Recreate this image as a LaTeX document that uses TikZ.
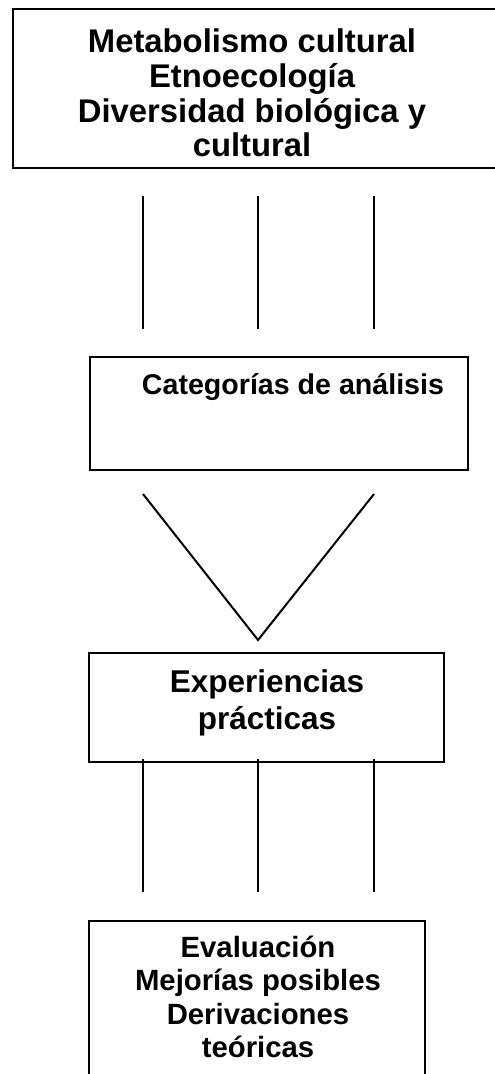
\documentclass[tikz,border=0pt]{standalone}
\usepackage{fontspec}
\setmainfont{Liberation Sans}
\usepackage{tikz}
\usetikzlibrary{positioning,calc}

\begin{document}
\begin{tikzpicture}[x=1pt, y=-1pt,
    boxline/.style={line width=2.5pt},
    link/.style={line width=2pt},
    txt/.style args={#1/#2}{align=center, inner sep=0pt, font=\bfseries\fontsize{#1}{#2}\selectfont}]
    \useasboundingbox (0,0) rectangle (495,1074);
    %
    \draw[boxline] (495,9) -- (13,9) -- (13,168) -- (495,168);
    \node[txt=32.8/34.7] (vTheory) at (252,93) {Metabolismo cultural\\Etnoecología\\Diversidad biológica y\\cultural};
    %
    \foreach \x in {143,258,374} {
    \node[coordinate] (vUp\x) at (\x,196) {};
    \node[coordinate] (vDn\x) at (\x,329) {};
    \draw[link] (vUp\x) -- (vDn\x);
    }
    %
    \draw[boxline] (90,357) rectangle (468,470);
    \node[txt=28.6/33] (vCat) at (293,387) {Categorías de análisis};
    %
    \node[coordinate] (vL) at (143,494) {};
    \node[coordinate] (vR) at (374,494) {};
    \node[coordinate] (vApex) at (258,640) {};
    \draw[link] (vL) -- (vApex) -- (vR);
    %
    \draw[boxline] (89,653) rectangle (444,762);
    \node[txt=31.5/37] (vExp) at (267,703) {Experiencias\\prácticas};
    %
    \foreach \x in {143,258,374} {
    \node[coordinate] (vTop\x) at (\x,759) {};
    \node[coordinate] (vBot\x) at (\x,892) {};
    \draw[link] (vTop\x) -- (vBot\x);
    }
    %
    \draw[boxline] (89,1074) -- (89,921) -- (425,921) -- (425,1074);
    \node[txt=29.3/33.3] (vEval) at (258,997) {Evaluación\\Mejorías posibles\\Derivaciones\\teóricas};
\end{tikzpicture}
\end{document}
